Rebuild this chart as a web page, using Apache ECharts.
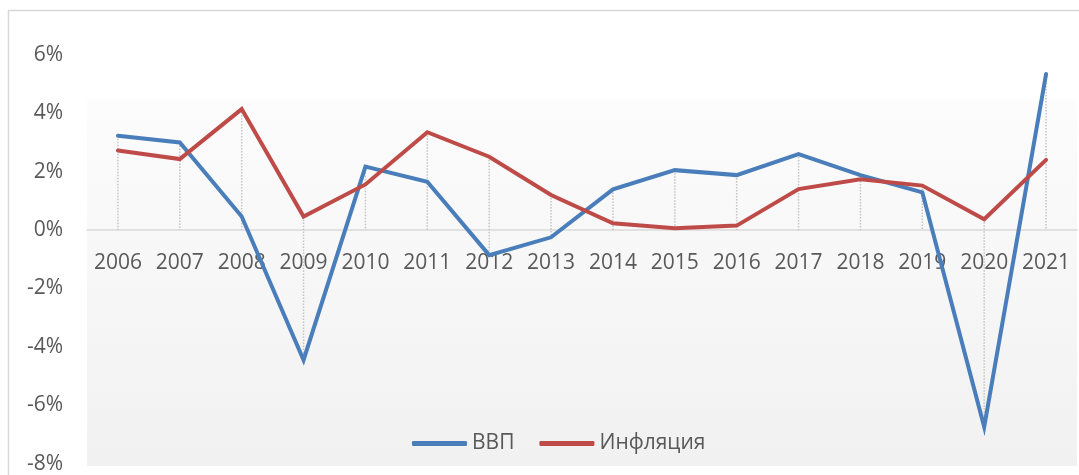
<!DOCTYPE html>
<html>
<head>
<meta charset="utf-8">
<script src="https://cdn.jsdelivr.net/npm/echarts@6/dist/echarts.min.js"></script>
<style>
  html, body { margin: 0; padding: 0; background: #ffffff; }
  #chart { width: 1079px; height: 475px; }
</style>
</head>
<body>
<div id="chart"></div>
<script>
// Годы и показатели, % к предыдущему году
const years = ['2006', '2007', '2008', '2009', '2010', '2011', '2012', '2013',
               '2014', '2015', '2016', '2017', '2018', '2019', '2020', '2021'];
const gdp = [3.23, 3.0, 0.46, -4.45, 2.17, 1.65, -0.86, -0.25,
             1.39, 2.05, 1.88, 2.6, 1.88, 1.29, -6.74, 5.34];
const inflation = [2.72, 2.43, 4.14, 0.46, 1.56, 3.35, 2.51, 1.2,
                   0.23, 0.06, 0.15, 1.4, 1.74, 1.52, 0.37, 2.4];
const yTicks = { min: -8, max: 6, step: 2 };

// Вертикальные линии проекции: от верхней точки до нижней (включая ось 0)
const dropData = years.map((y, i) => [
  i,
  Math.max(gdp[i], inflation[i], 0),
  Math.min(gdp[i], inflation[i], 0)
]);

const FONT = '"Open Sans", "DejaVu Sans", sans-serif';
const TEXT = '#595959';

// Область построения
const GRID_TOP = 54.8;
const GRID_H = 408.8;
// Ось категорий проходит через 0%: сдвиг вверх от нижнего края сетки
const zeroShift = -(0 - yTicks.min) / (yTicks.max - yTicks.min) * GRID_H;

const chart = echarts.init(document.getElementById('chart'), null, { renderer: 'canvas' });

chart.setOption({
  animation: false,
  backgroundColor: '#ffffff',
  textStyle: { fontFamily: FONT },
  graphic: [
    {
      type: 'rect', z: -20, silent: true,
      shape: { x: 8.5, y: 10.5, width: 1100, height: 500 },
      style: { fill: '#ffffff', stroke: '#d9d9d9', lineWidth: 1.5 }
    },
    {
      type: 'rect', z: -10, silent: true,
      shape: { x: 87, y: 100, width: 990, height: 366 },
      style: {
        fill: new echarts.graphic.LinearGradient(0, 0, 0, 1, [
          { offset: 0, color: '#fcfcfc' },
          { offset: 1, color: '#f1f1f1' }
        ])
      }
    }
  ],
  grid: {
    left: 87, right: 2, top: GRID_TOP, height: GRID_H,
    containLabel: false, outerBoundsMode: 'none'
  },
  legend: {
    data: ['ВВП', 'Инфляция'],
    left: 407,
    top: 428,
    itemWidth: 55,
    itemHeight: 5,
    itemGap: 25,
    icon: 'roundRect',
    textStyle: { fontFamily: FONT, fontSize: 21, color: TEXT }
  },
  xAxis: {
    type: 'category',
    data: years,
    boundaryGap: true,
    position: 'bottom',
    offset: zeroShift,
    axisLine: { onZero: false, lineStyle: { color: '#d9d9d9', width: 1.5 } },
    axisTick: { show: false },
    axisLabel: { fontFamily: FONT, fontSize: 21, color: TEXT, margin: 23, interval: 0 },
    splitLine: { show: false }
  },
  yAxis: {
    type: 'value',
    min: yTicks.min,
    max: yTicks.max,
    interval: yTicks.step,
    axisLine: { show: false },
    axisTick: { show: false },
    splitLine: { show: false },
    axisLabel: {
      fontFamily: FONT, fontSize: 21, color: TEXT, margin: 24,
      formatter: v => v + '%'
    }
  },
  series: [
    {
      type: 'custom',
      name: 'drop',
      z: 1,
      silent: true,
      data: dropData,
      encode: { x: 0, y: [1, 2] },
      renderItem: (params, api) => {
        const top = api.coord([api.value(0), api.value(1)]);
        const bot = api.coord([api.value(0), api.value(2)]);
        return {
          type: 'line',
          shape: { x1: top[0], y1: top[1], x2: bot[0], y2: bot[1] },
          style: { stroke: '#c4c4c4', lineWidth: 1.5, lineDash: [1.5, 1.5] }
        };
      }
    },
    {
      name: 'ВВП',
      type: 'line',
      data: gdp,
      z: 3,
      symbol: 'none',
      color: '#4a7ebb',
      lineStyle: { color: '#4a7ebb', width: 4, cap: 'round', join: 'miter' }
    },
    {
      name: 'Инфляция',
      type: 'line',
      data: inflation,
      z: 4,
      symbol: 'none',
      color: '#be4b48',
      lineStyle: { color: '#be4b48', width: 4, cap: 'round', join: 'miter' }
    }
  ]
});
</script>
</body>
</html>
